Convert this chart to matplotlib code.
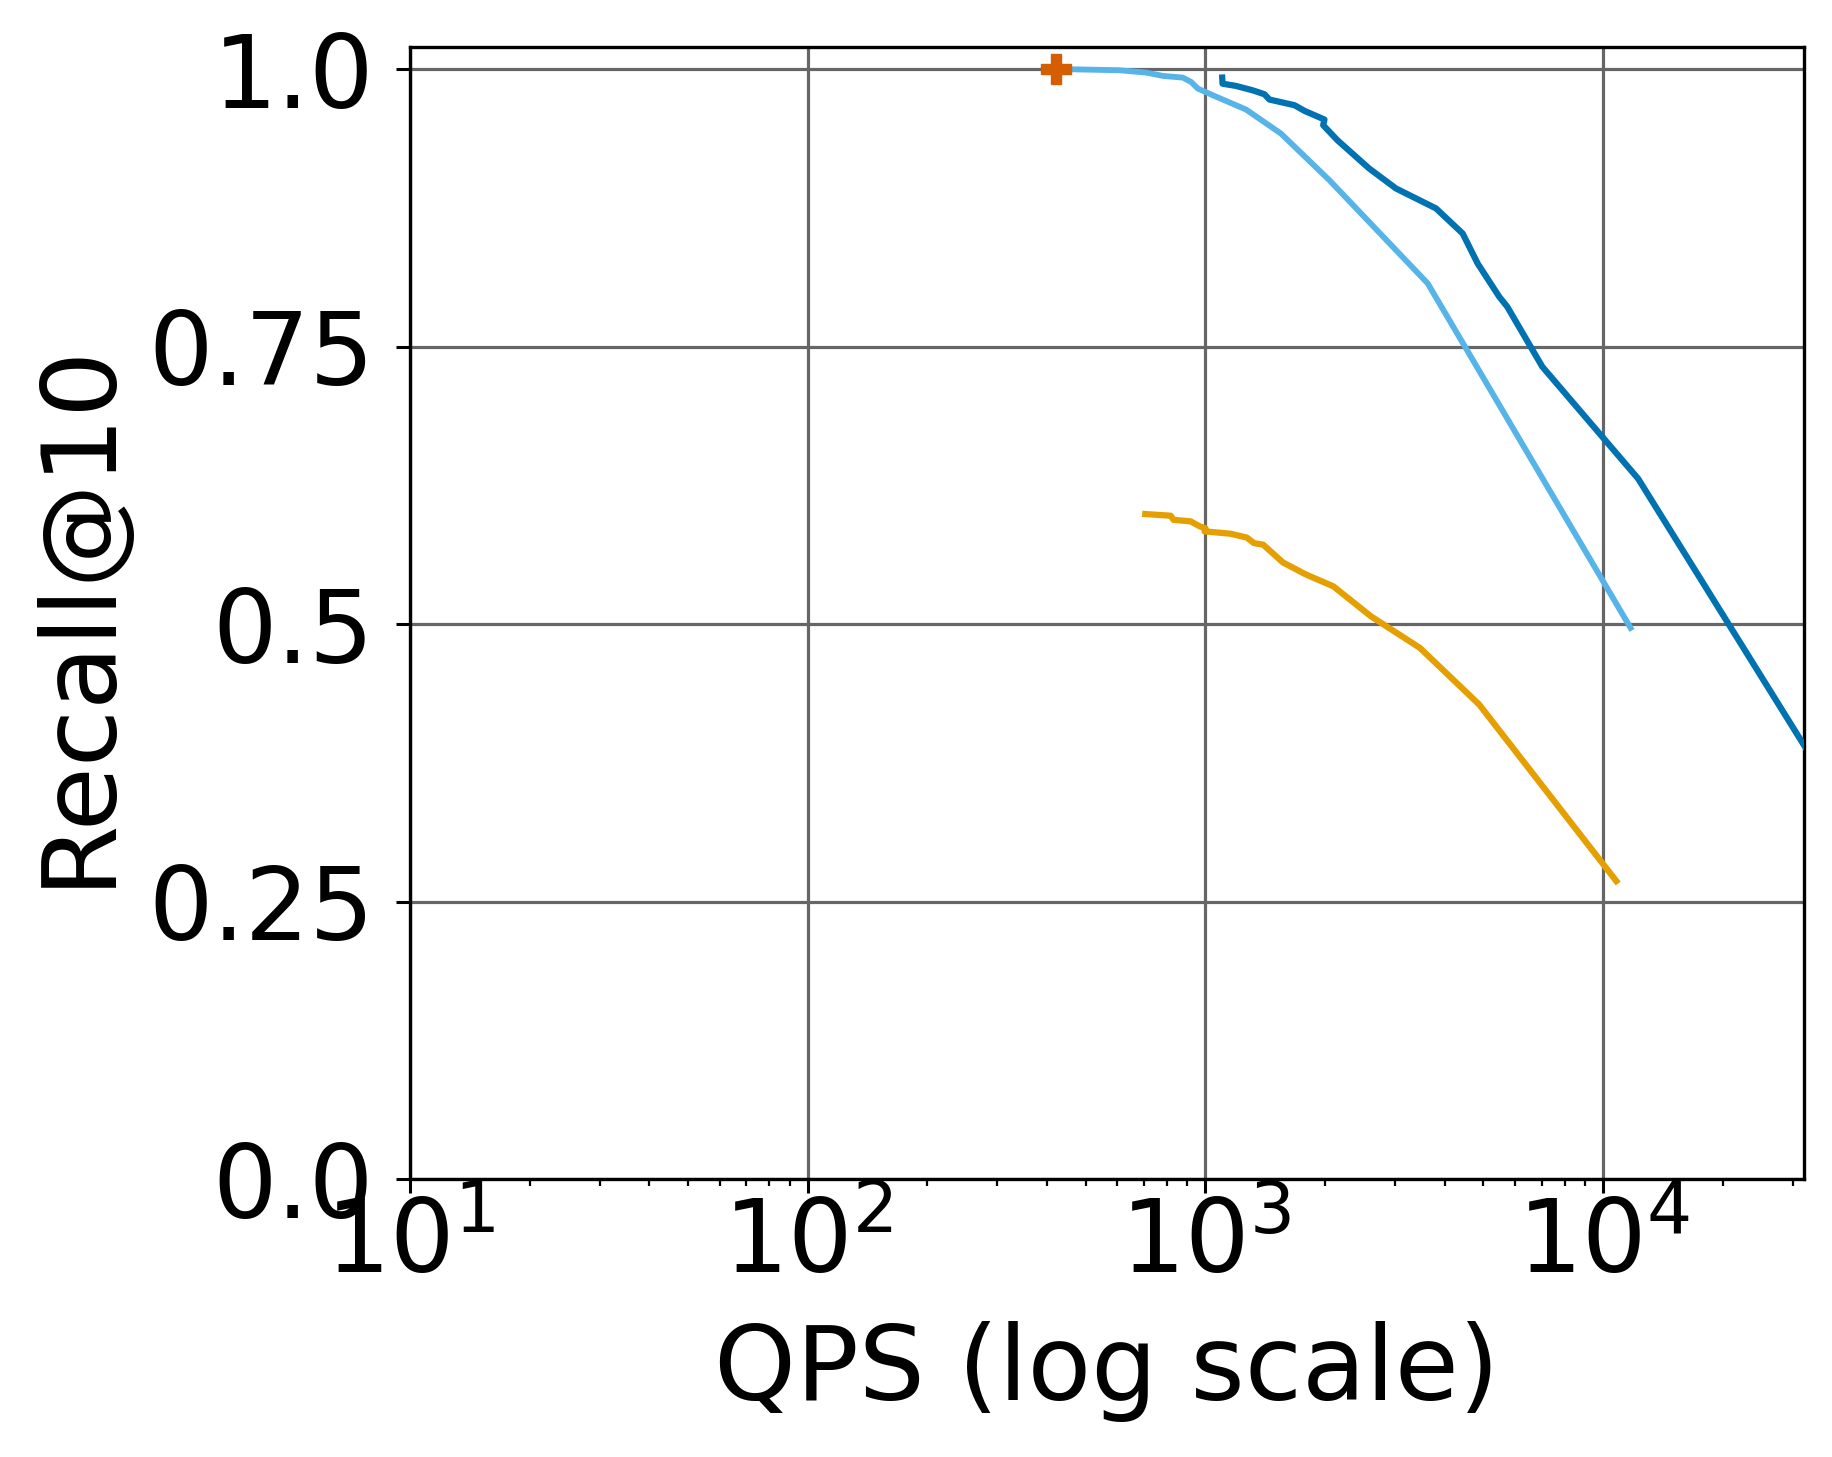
import matplotlib
matplotlib.use("Agg")
import matplotlib.pyplot as plt

# Series data (QPS, Recall@10)
dark_qps = [1102, 1104, 1193, 1315, 1407, 1449, 1675, 1775, 1992, 1977, 2148, 2580,
            3013, 3800, 4434, 4835, 5480, 5740, 7030, 12250, 40000]
dark_recall = [0.9925, 0.987, 0.985, 0.981, 0.9775, 0.9727, 0.9676, 0.9625, 0.9547,
               0.9496, 0.936, 0.9106, 0.8926, 0.8746, 0.852, 0.825, 0.795, 0.786,
               0.732, 0.631, 0.335]

light_qps = [420, 455, 608, 710, 782, 877, 920, 957, 1043, 1265, 1549, 2050, 3622, 11720]
light_recall = [1.0, 1.0, 0.9991, 0.997, 0.994, 0.9925, 0.9886, 0.9826, 0.9766, 0.9637,
                0.942, 0.900, 0.807, 0.4966]

orange_qps = [706, 818, 831, 918, 969, 1000, 995, 1155, 1271, 1324, 1397, 1566, 1783,
              2098, 2608, 3461, 4880, 10790]
orange_recall = [0.5992, 0.5977, 0.594, 0.5926, 0.588, 0.5865, 0.5836, 0.5815, 0.578,
                 0.573, 0.5716, 0.5556, 0.545, 0.534, 0.507, 0.4786, 0.4275, 0.2685]

point_qps = [420]
point_recall = [1.0]

yticks = [0.0, 0.25, 0.5, 0.75, 1.0]
ytick_labels = ["0.0", "0.25", "0.5", "0.75", "1.0"]

fig = plt.figure(figsize=(18.33, 14.57), dpi=100)
ax = fig.add_axes([0.2237, 0.1908, 0.9842 - 0.2237, 0.9677 - 0.1908])

ax.plot(dark_qps, dark_recall, color="#0072B2", lw=4.5, zorder=3)
ax.plot(light_qps, light_recall, color="#56B4E9", lw=4.2, zorder=3)
ax.plot(orange_qps, orange_recall, color="#E69F00", lw=4.5, zorder=3)
ax.plot(point_qps, point_recall, marker="P", color="#D55E00", markersize=22,
        linestyle="none", zorder=4)

ax.set_xscale("log")
ax.set_xlim(10, 32000)
ax.set_ylim(0, 1.02)
ax.set_yticks(yticks)
ax.set_yticklabels(ytick_labels)

ax.grid(True, which="major", color="#666666", linewidth=2.3)
ax.set_axisbelow(True)

for s in ax.spines.values():
    s.set_linewidth(2.4)

ax.tick_params(axis="both", which="major", labelsize=73, length=10, width=2.2)
ax.tick_params(axis="x", which="minor", length=5, width=1.6)
ax.tick_params(axis="y", which="major", pad=16)
ax.tick_params(axis="x", which="major", pad=2)

ax.set_xlabel("QPS (log scale)", fontsize=75, labelpad=20)
ax.set_ylabel("Recall@10", fontsize=75, labelpad=14)

fig.savefig("out.png", dpi=100)
